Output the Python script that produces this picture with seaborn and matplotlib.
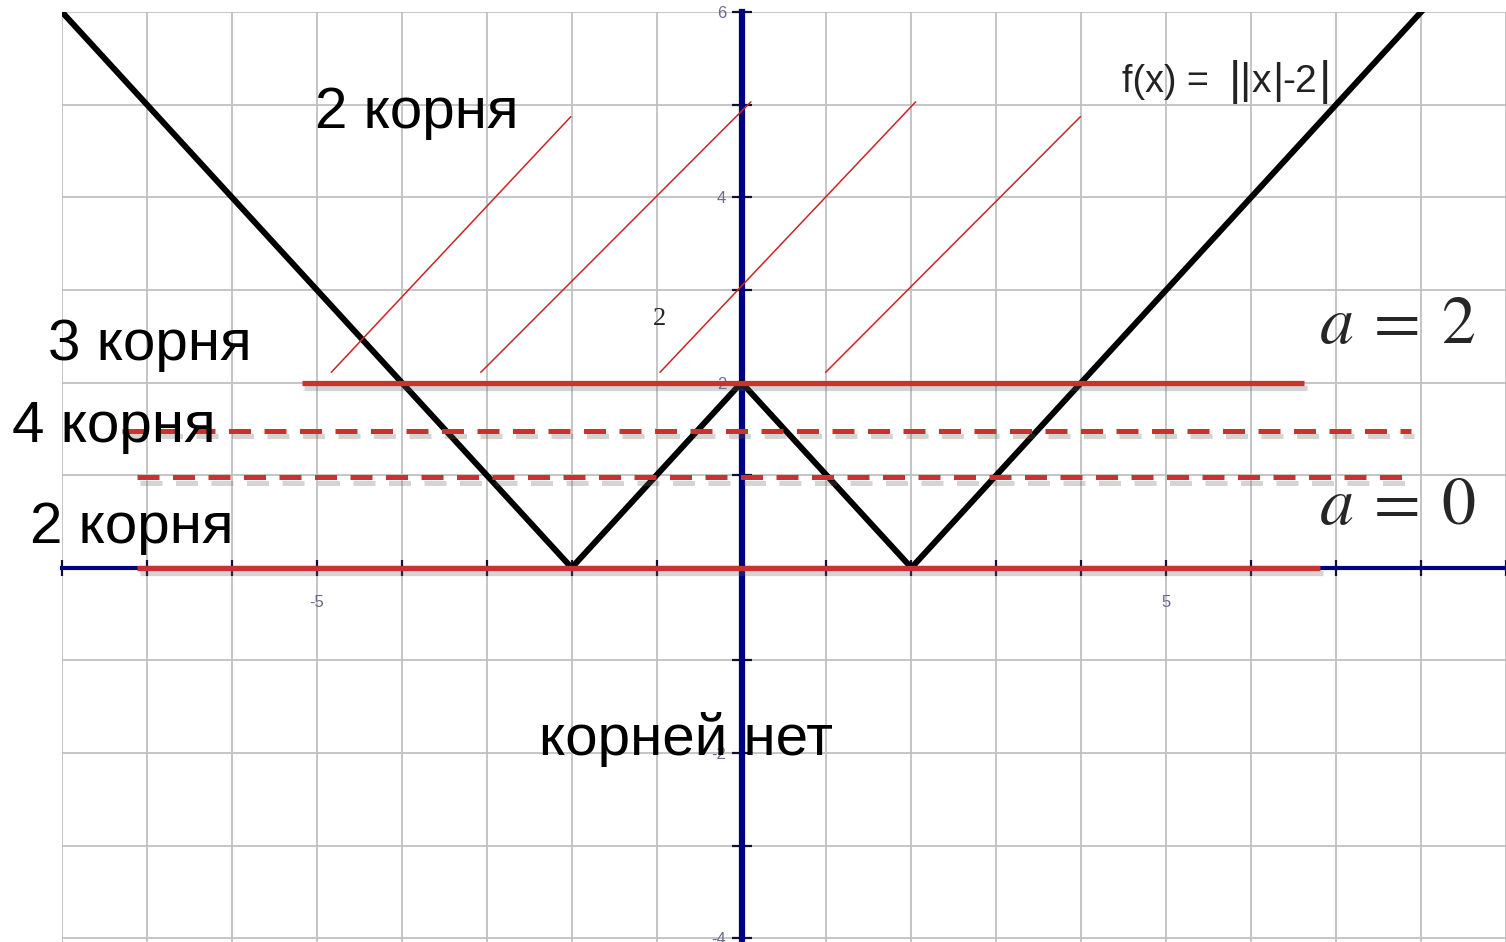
import numpy as np
import pandas as pd
import matplotlib
matplotlib.use("Agg")
import matplotlib.pyplot as plt
import matplotlib.patheffects as pe
import seaborn as sns

# -------------------------
# data
# -------------------------
# f(x) = ||x| - 2| at its break points (and the plot edges)
curve_x = [-8, -2, 0, 2, 9]
curve_y = [6, 0, 2, 0, 7]

# solid red levels: a = 2 and a = 0
solid_levels = [2.0, 0.0]
solid_from = [-5.18, -7.12]
solid_to = [6.62, 6.81]

# dashed red levels (0 < a < 2)
dash_levels = [1.48, 0.98]
dash_from = [-7.29, -7.12]
dash_to = [7.88, 7.86]

# thin hatch strokes above a = 2
hatch_x0 = [-4.83, -3.07, -0.96, 0.99]
hatch_y0 = [2.11, 2.11, 2.11, 2.11]
hatch_x1 = [-2.01, 0.11, 2.05, 3.99]
hatch_y1 = [4.87, 5.03, 5.03, 4.87]

x_labels = {-5: "-5", 5: "5"}
y_labels = {6: "6", 4: "4", 2: "2", -2: "-2", -4: "-4"}

# pieces of the "f(x) = ||x|-2|" label: (x, text, size, ha)
fx_pieces = [(4.48, "f(x) =", 27, "left"), (5.81, "|", 34, "center"),
             (5.93, "|", 31, "center"), (6.12, "x", 28, "center"),
             (6.31, "|", 31, "center"), (6.37, "-2", 28, "left"),
             (6.87, "|", 34, "center")]

# -------------------------
# style
# -------------------------
sns.set_theme(style="whitegrid")
plt.rcParams["font.family"] = ["Liberation Sans", "DejaVu Sans"]

RED = "#c83232"
NAVY = "#000080"

fig = plt.figure(figsize=(15.06, 9.42), dpi=100)
ax = fig.add_axes([62 / 1506, 0, 1444 / 1506, 930 / 942])
ax.set_xlim(-8, 9)
ax.set_ylim(-4.04, 6)

ax.set_xticks(np.arange(-8, 10))
ax.set_yticks(np.arange(-4, 7))
ax.set_xticklabels([x_labels.get(int(v), "") for v in ax.get_xticks()])
ax.set_yticklabels([y_labels.get(int(v), "") for v in ax.get_yticks()])
ax.grid(True, color="#c0c0c0", lw=1.3)
ax.set_axisbelow(True)

for side in ["top", "right"]:
    ax.spines[side].set_visible(False)
ax.spines["left"].set_position("zero")
ax.spines["bottom"].set_position("zero")
ax.spines["left"].set_color(NAVY)
ax.spines["left"].set_linewidth(4.5)
ax.spines["bottom"].set_color(NAVY)
ax.spines["bottom"].set_linewidth(3.0)
ax.spines["left"].set_zorder(2.2)
ax.spines["bottom"].set_zorder(2.2)
ax.tick_params(axis="both", direction="inout", width=1.6, color="#101030",
               labelsize=12, labelcolor="#6a6a8c", bottom=True, left=True)
ax.tick_params(axis="x", length=11, pad=14)
ax.tick_params(axis="y", length=14, pad=4)

# -------------------------
# curve
# -------------------------
df = pd.DataFrame({"x": curve_x, "y": curve_y})
sns.lineplot(data=df, x="x", y="y", sort=False, estimator=None, color="black",
             lw=4.3, ax=ax, zorder=3)
ax.set_xlabel("")
ax.set_ylabel("")

shadow = [pe.SimpleLineShadow(offset=(2, -4), shadow_color="#666666", alpha=0.28),
          pe.Normal()]

for lvl, a, b in zip(solid_levels, solid_from, solid_to):
    ax.hlines(lvl, a, b, color=RED, lw=3.8, zorder=4, path_effects=shadow)

for lvl, a, b in zip(dash_levels, dash_from, dash_to):
    ax.hlines(lvl, a, b, color=RED, lw=3.6, zorder=4, linestyles=(0, (4.4, 2.7)),
              path_effects=shadow)

for x0, y0, x1, y1 in zip(hatch_x0, hatch_y0, hatch_x1, hatch_y1):
    ax.plot([x0, x1], [y0, y1], color="#cc2424", lw=1.1, zorder=4)

# -------------------------
# labels
# -------------------------
tkw = dict(fontsize=42, color="black", va="baseline", ha="left", zorder=6)
ax.text(-5.02, 4.75, "2 корня", **tkw)
ax.text(-8.16, 2.24, "3 корня", **tkw)
ax.text(-8.59, 1.36, "4 корня", **tkw)
ax.text(-8.38, 0.27, "2 корня", **tkw)
ax.text(-2.38, -2.02, "корней нет", **tkw)

ax.text(-0.96, 2.62, "2", fontsize=19, family="Liberation Serif", ha="center",
        va="baseline", zorder=6)

ax.text(6.8, 2.43, r"$a\:=\:2$", fontsize=49, math_fontfamily="stix", ha="left",
        va="baseline", zorder=6)
ax.text(6.8, 0.47, r"$a\:=\:0$", fontsize=49, math_fontfamily="stix", ha="left",
        va="baseline", zorder=6)

for px, s, size, ha in fx_pieces:
    ax.text(px, 5.24, s, fontsize=size, color="#222222", ha=ha, va="center",
            zorder=6)

fig.savefig("out.png", dpi=100)
